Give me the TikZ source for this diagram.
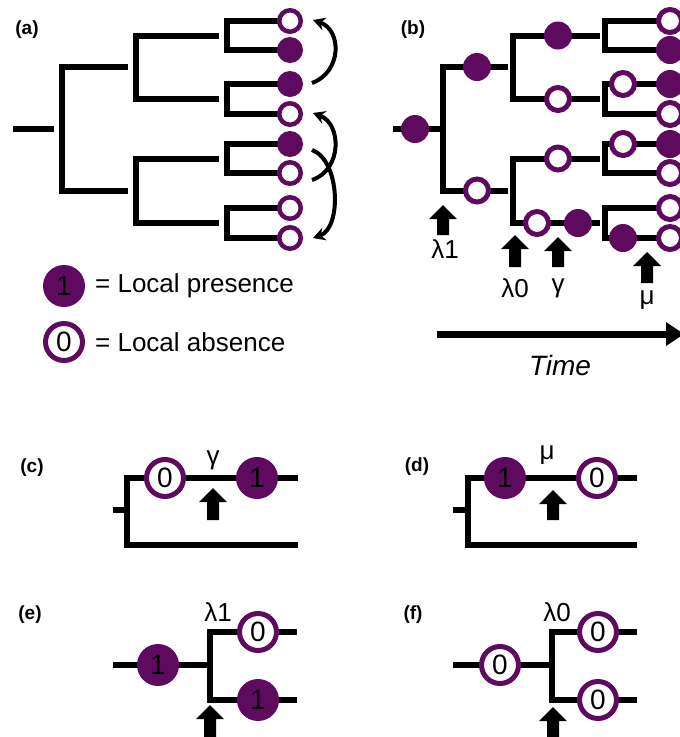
\documentclass[tikz,border=0pt]{standalone}
\usepackage{fontspec}
\setmainfont{Liberation Sans}
\usetikzlibrary{arrows.meta}
\definecolor{pur}{RGB}{94,10,94}
\newcommand\digfont{\fontsize{28}{30}\selectfont}
\newcommand\myuparr[3]{\fill[black] (#1-14,#2+14) -- (#1,#2) -- (#1+14,#2+14) -- (#1+6,#2+14) -- (#1+6,#3) -- (#1-6,#3) -- (#1-6,#2+14) -- cycle;}
\tikzset{
 br/.style={line width=6pt, line join=miter, line cap=butt},
 fa/.style={circle, fill=pur, minimum size=26pt, inner sep=0pt},
 oa/.style={circle, fill=white, draw=pur, line width=4.5pt, minimum size=21.5pt, inner sep=0pt},
 fb/.style={fa, minimum size=28pt},
 ob/.style={oa, line width=5pt, minimum size=23pt},
 fbig/.style={circle, fill=pur, minimum size=42pt, inner sep=0pt, font=\digfont},
 obig/.style={circle, fill=white, draw=pur, line width=5pt, minimum size=37pt, inner sep=0pt, font=\digfont},
 lab/.style={font=\bfseries\fontsize{19}{22}\selectfont},
 greek/.style={font=\fontsize{26}{28}\selectfont},
 legtext/.style={anchor=west, font=\fontsize{26}{28}\selectfont, inner sep=0pt},
 swaparr/.style={line width=4pt, -{Stealth[length=12pt,width=13pt]}},
}
\begin{document}
\begin{tikzpicture}[x=1pt,y=-1pt]
\useasboundingbox (0,0) rectangle (680,737);
% ---------- (a) ----------
\node[lab] (la) at (27,30) {(a)};
\draw[br] (13,129) -- (54,129);
\draw[br] (128,67) -- (62,67) -- (62,190.5) -- (128,190.5);
\draw[br] (219,35.5) -- (136,35.5) -- (136,99) -- (219,99);
\draw[br] (219,158.5) -- (136,158.5) -- (136,223) -- (219,223);
\draw[br] (290,21) -- (227,21) -- (227,50) -- (290,50);
\draw[br] (290,84) -- (227,84) -- (227,114) -- (290,114);
\draw[br] (290,144) -- (227,144) -- (227,173) -- (290,173);
\draw[br] (290,208) -- (227,208) -- (227,238) -- (290,238);
\node[oa] (a1) at (290,21) {};
\node[fa] (a2) at (290,50) {};
\node[fa] (a3) at (290,84) {};
\node[oa] (a4) at (290,114) {};
\node[fa] (a5) at (290,144) {};
\node[oa] (a6) at (290,173) {};
\node[oa] (a7) at (290,208) {};
\node[oa] (a8) at (290,238) {};
\coordinate (t1) at (312,83);
\coordinate (h1) at (313,20);
\coordinate (t2) at (312,180);
\coordinate (h2) at (313,113);
\coordinate (t3) at (312,150);
\coordinate (h3) at (313,238);
\draw[swaparr] (t1) .. controls (342,72) and (342,30) .. (h1);
\draw[swaparr] (t2) .. controls (342,170) and (342,124) .. (h2);
\draw[swaparr] (t3) .. controls (340,160) and (342,228) .. (h3);
% ---------- legend ----------
\node[fbig] (l1) at (64,286) {1};
\node[legtext] (lt1) at (95,286) {= Local presence};
\node[obig] (l0) at (64,342) {0};
\node[legtext] (lt0) at (95,342) {= Local absence};
% ---------- (b) ----------
\node[lab] (lb) at (413,30) {(b)};
\draw[br] (393,129) -- (441,129);
\draw[br] (508,67) -- (443,67) -- (443,190.5) -- (508,190.5);
\draw[br] (600,35.5) -- (513,35.5) -- (513,99) -- (600,99);
\draw[br] (600,158.5) -- (513,158.5) -- (513,223) -- (600,223);
\draw[br] (690,21) -- (605,21) -- (605,50) -- (690,50);
\draw[br] (690,84) -- (605,84) -- (605,114) -- (690,114);
\draw[br] (690,144) -- (605,144) -- (605,173) -- (690,173);
\draw[br] (690,208) -- (605,208) -- (605,238) -- (690,238);
\node[fb] (b0) at (415,129) {};
\node[fb] (b1) at (477,67) {};
\node[ob] (b2) at (477,190.5) {};
\node[fb] (b3) at (558,35.5) {};
\node[ob] (b4) at (558,99) {};
\node[ob] (b5) at (558,158.5) {};
\node[ob] (b6) at (537,223) {};
\node[fb] (b7) at (578,223) {};
\node[ob] (b8) at (623,84) {};
\node[ob] (b9) at (623,144) {};
\node[fb] (b10) at (623,238) {};
\node[ob] (bl1) at (670,21) {};
\node[fb] (bl2) at (670,50) {};
\node[fb] (bl3) at (670,84) {};
\node[ob] (bl4) at (670,114) {};
\node[fb] (bl5) at (670,144) {};
\node[ob] (bl6) at (670,173) {};
\node[ob] (bl7) at (670,208) {};
\node[ob] (bl8) at (670,238) {};
\myuparr{443}{205}{235}
\myuparr{515}{235}{267}
\myuparr{558}{237}{267}
\myuparr{647}{252}{283}
\node[greek] (gl1) at (445,249) {λ1};
\node[greek] (gl0) at (515,288) {λ0};
\node[greek] (gg) at (558,288) {γ};
\node[greek] (gm) at (647,300) {μ};
\coordinate (ts) at (437,334);
\coordinate (te) at (667,334);
\draw[line width=7pt] (ts) -- (te);
\fill[black] (666,322) -- (684,334) -- (666,346) -- cycle;
\node[font=\itshape\fontsize{28}{30}\selectfont] (time) at (560,365) {Time};
% ---------- (c) ----------
\node[lab] (lc) at (32,468) {(c)};
\draw[br] (113,510) -- (127,510);
\draw[br] (298,478) -- (127,478) -- (127,545) -- (298,545);
\node[obig] (c0) at (165,478) {0};
\node[fbig] (c1) at (257,478) {1};
\myuparr{213}{488}{520}
\node[greek] (cg) at (213,460) {γ};
% ---------- (d) ----------
\node[lab] (ld) at (417,467) {(d)};
\draw[br] (453,510) -- (468,510);
\draw[br] (637,478) -- (468,478) -- (468,545) -- (637,545);
\node[fbig] (d1) at (505,478) {1};
\node[obig] (d0) at (597,478) {0};
\myuparr{553}{490}{520}
\node[greek] (dm) at (547,455) {μ};
% ---------- (e) ----------
\node[lab] (le) at (30,615) {(e)};
\draw[br] (113,665) -- (210,665);
\draw[br] (297,632) -- (210,632) -- (210,700) -- (297,700);
\node[fbig] (e1) at (158,665) {1};
\node[obig] (e2) at (258,632) {0};
\node[fbig] (e3) at (258,700) {1};
\myuparr{210}{705}{745}
\node[greek] (el) at (218,612) {λ1};
% ---------- (f) ----------
\node[lab] (lf) at (413,615) {(f)};
\draw[br] (453,665) -- (552,665);
\draw[br] (637,632) -- (552,632) -- (552,700) -- (637,700);
\node[obig] (f1) at (500,665) {0};
\node[obig] (f2) at (598,632) {0};
\node[obig] (f3) at (598,700) {0};
\myuparr{553}{707}{745}
\node[greek] (fl) at (557,612) {λ0};
\end{tikzpicture}
\end{document}
